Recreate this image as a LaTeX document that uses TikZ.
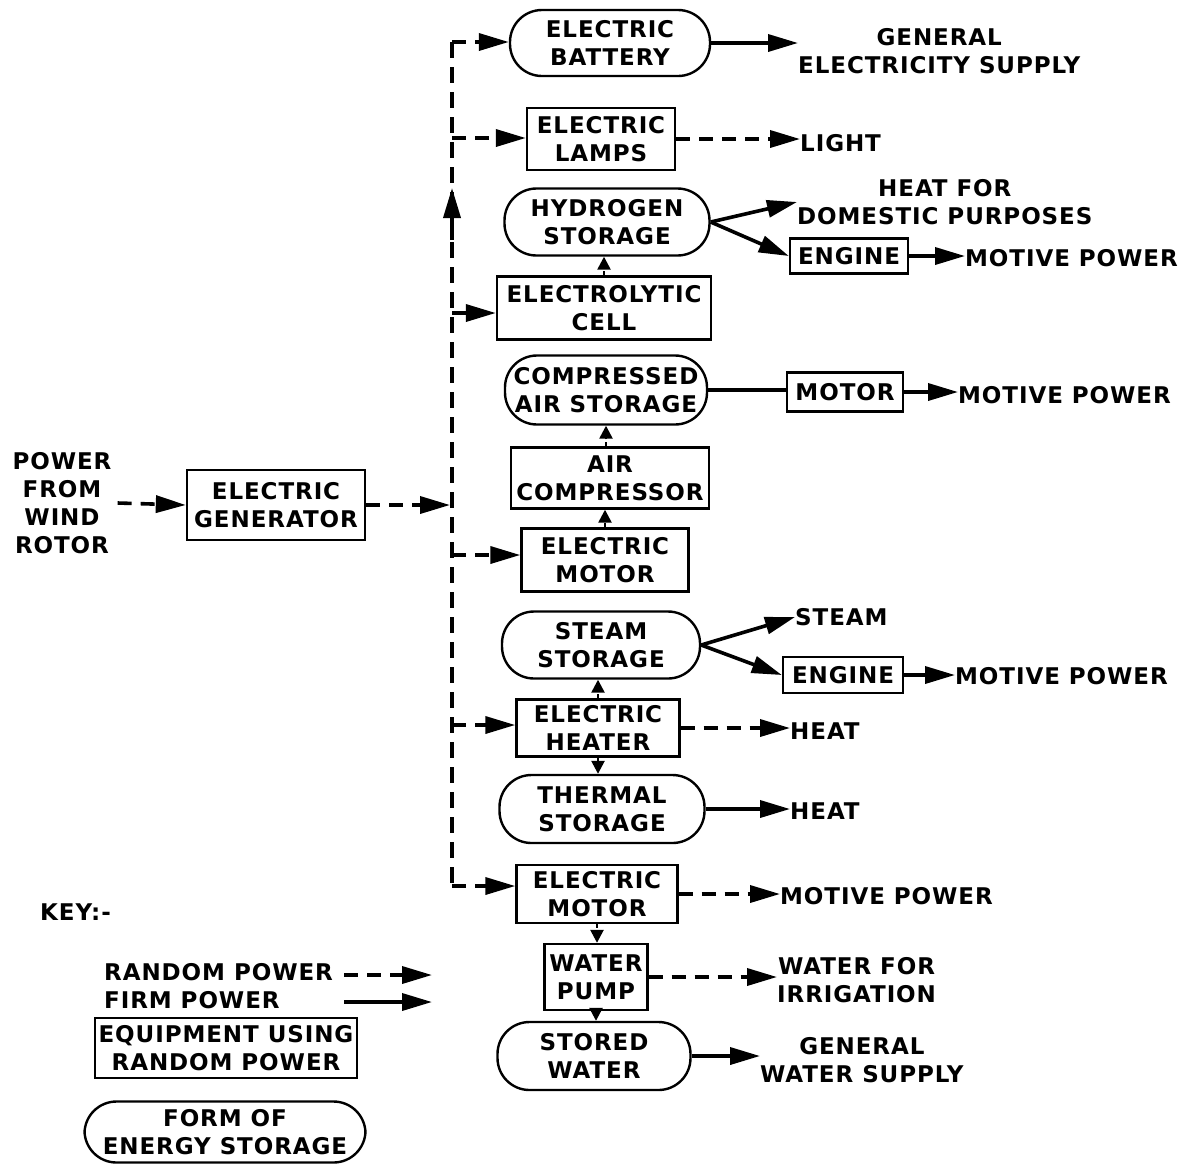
\documentclass[tikz,border=0pt]{standalone}
\usepackage{fontspec}
\setmainfont{DejaVu Sans}[LetterSpace=4]
\usetikzlibrary{arrows.meta}
\begin{document}
\begin{tikzpicture}[x=1pt,y=-1pt,
 every node/.style={font=\fontsize{23}{28}\selectfont\bfseries, align=center, inner sep=0pt},
 box/.style={draw, line width=2.4pt, rectangle},
 store/.style={draw, line width=2.4pt, rectangle, rounded corners=32pt},
 lbl/.style={anchor=west},
 firm/.style={line width=3.6pt, -{Triangle[length=30pt,width=17pt]}},
 rand/.style={firm, dash pattern=on 14pt off 9pt},
 firmline/.style={line width=3.6pt},
 randline/.style={line width=3.6pt, dash pattern=on 16pt off 9pt},
 small/.style={line width=2.5pt, dash pattern=on 4pt off 3pt, -{Triangle[length=13pt,width=13pt]}},
]
\useasboundingbox (0,0) rectangle (1188,1163);

% left part
\node (pwr) at (62,503) {POWER\\FROM\\WIND\\ROTOR};
\node[box, minimum width=178pt, minimum height=70pt] (gen) at (276,505) {ELECTRIC\\GENERATOR};

% main column
\node[store, minimum width=200pt, minimum height=66pt] (bat) at (610,43) {ELECTRIC\\BATTERY};
\node[box, minimum width=148pt, minimum height=62pt] (lamp) at (601,139) {ELECTRIC\\LAMPS};
\node[store, minimum width=205pt, minimum height=67pt] (hyd) at (607,222) {HYDROGEN\\STORAGE};
\node[box, minimum width=214pt, minimum height=63pt] (cell) at (604,308) {ELECTROLYTIC\\CELL};
\node[store, minimum width=202pt, minimum height=69pt] (cas) at (606,390) {COMPRESSED\\AIR STORAGE};
\node[box, minimum width=198pt, minimum height=61pt] (comp) at (610,478) {AIR\\COMPRESSOR};
\node[box, minimum width=167pt, minimum height=63pt] (mot1) at (605,560) {ELECTRIC\\MOTOR};
\node[store, minimum width=198pt, minimum height=67pt] (ss) at (601,645) {STEAM\\STORAGE};
\node[box, minimum width=163pt, minimum height=57pt] (heat) at (598,728) {ELECTRIC\\HEATER};
\node[store, minimum width=205pt, minimum height=68pt] (ts) at (602,809) {THERMAL\\STORAGE};
\node[box, minimum width=161pt, minimum height=58pt] (mot2) at (597,894) {ELECTRIC\\MOTOR};
\node[box, minimum width=103pt, minimum height=66pt] (pump) at (596,977) {WATER\\PUMP};
\node[store, minimum width=193pt, minimum height=68pt] (sw) at (594,1056) {STORED\\WATER};

% right side
\node[lbl] (ges) at (798,51) {GENERAL\\ELECTRICITY SUPPLY};
\node[lbl] (light) at (800,143) {LIGHT};
\node[lbl] (hdp) at (797,202) {HEAT FOR\\DOMESTIC PURPOSES};
\node[box, minimum width=118pt, minimum height=35pt] (eng1) at (849,256) {ENGINE};
\node[lbl] (mp1) at (965,258) {MOTIVE POWER};
\node[box, minimum width=116pt, minimum height=39pt] (motr) at (845,392) {MOTOR};
\node[lbl] (mp2) at (958,395) {MOTIVE POWER};
\node[lbl] (steam) at (795,617) {STEAM};
\node[box, minimum width=120pt, minimum height=36pt] (eng2) at (843,675) {ENGINE};
\node[lbl] (mp3) at (955,676) {MOTIVE POWER};
\node[lbl] (heat1) at (790,731) {HEAT};
\node[lbl] (heat2) at (790,811) {HEAT};
\node[lbl] (mp4) at (780,896) {MOTIVE POWER};
\node[lbl] (irr) at (777,980) {WATER FOR\\IRRIGATION};
\node[lbl] (gws) at (760,1060) {GENERAL\\WATER SUPPLY};

% key
\node[lbl] (key) at (40,912) {KEY:-};
\node[lbl] (krand) at (104,972) {RANDOM POWER};
\node[lbl] (kfirm) at (104,1000) {FIRM POWER};
\node[box, minimum width=262pt, minimum height=60pt] (kbox) at (226,1048) {EQUIPMENT USING\\RANDOM POWER};
\node[store, minimum width=281pt, minimum height=61pt] (kstore) at (225,1132) {FORM OF\\ENERGY STORAGE};
\coordinate (kr1) at (344,975); \coordinate (kr2) at (432,975);
\coordinate (kf1) at (344,1002); \coordinate (kf2) at (432,1002);
\draw[rand] (kr1) -- (kr2);
\draw[firm] (kf1) -- (kf2);

% bus
\coordinate (btop) at (452,42);
\coordinate (bbot) at (452,886);
\coordinate (bgen) at (450,505);
\coordinate (bup1) at (452,240);
\coordinate (bup2) at (452,188);
\draw[randline] (btop) -- (bbot);
\draw[firm] (bup1) -- (bup2);
\draw[rand] (pwr.east) ++(6,0) coordinate (pw) (pw) -- (gen.west);
\draw[rand] (gen.east) -- (bgen);

\draw[rand] (btop) -- (btop -| bat.west);
\coordinate (b2) at (452,138);
\draw[rand] (b2) -- (b2 -| lamp.west);
\coordinate (b3) at (452,313);
\draw[rand] (b3) -- (b3 -| cell.west);
\coordinate (b4) at (452,555);
\draw[rand] (b4) -- (b4 -| mot1.west);
\coordinate (b5) at (452,725);
\draw[rand] (b5) -- (b5 -| heat.west);
\draw[rand] (bbot) -- (bbot -| mot2.west);

% vertical small arrows
\draw[small] (cell.north) -- (cell.north |- hyd.south);
\draw[small] (comp.north -| cas.south) -- (cas.south);
\draw[small] (mot1.north) -- (mot1.north |- comp.south);
\draw[small] (heat.north) -- (heat.north |- ss.south);
\draw[small] (heat.south) -- (heat.south |- ts.north);
\draw[small] (mot2.south) -- (mot2.south |- pump.north);
\draw[small] (pump.south) -- (pump.south |- sw.north);

% outputs
\draw[firm] (bat.east) -- (bat.east -| ges.west);
\draw[rand] (lamp.east) -- (lamp.east -| light.west);
\draw[firm] (hyd.east) -- (hdp.west);
\draw[firm] (hyd.east) -- (eng1.west);
\draw[firm] (eng1.east) -- (eng1.east -| mp1.west);
\draw[firmline] (cas.east) -- (cas.east -| motr.west);
\draw[firm] (motr.east) -- (motr.east -| mp2.west);
\draw[firm] (ss.east) -- (steam.west);
\draw[firm] (ss.east) -- (eng2.west);
\draw[firm] (eng2.east) -- (eng2.east -| mp3.west);
\draw[rand] (heat.east) -- (heat.east -| heat1.west);
\draw[firm] (ts.east) -- (ts.east -| heat2.west);
\draw[rand] (mot2.east) -- (mot2.east -| mp4.west);
\draw[rand] (pump.east) -- (pump.east -| irr.west);
\draw[firm] (sw.east) -- (sw.east -| gws.west);
\end{tikzpicture}
\end{document}
